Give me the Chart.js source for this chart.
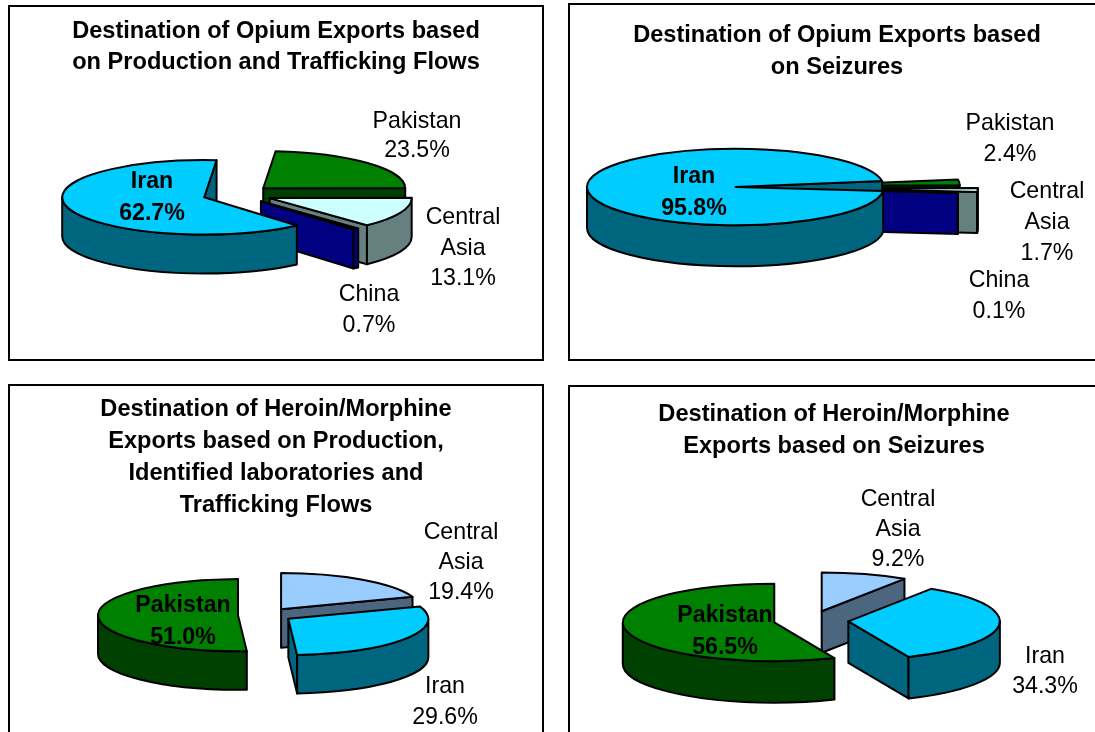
<!DOCTYPE html>
<html>
<head>
<meta charset="utf-8">
<title>Destination of exports</title>
<script src="https://cdn.jsdelivr.net/npm/chart.js@4"></script>
<style>
    html, body { margin: 0; padding: 0; background: #fff; overflow: hidden; }
    body { width: 1095px; height: 732px; position: relative; }
    canvas { position: absolute; border: 2px solid #000; background: #fff; }
</style>
</head>
<body>
<script>
// Values
const opiumFlowTitle = ['Destination of Opium Exports based', 'on Production and Trafficking Flows'];
const opiumFlowCategories = ['Pakistan', 'Central Asia', 'China', 'Iran'];
const opiumFlowValues = [23.5, 13.1, 0.7, 62.7];

const opiumSeizureTitle = ['Destination of Opium Exports based', 'on Seizures'];
const opiumSeizureCategories = ['Pakistan', 'Central Asia', 'China', 'Iran'];
const opiumSeizureValues = [2.4, 1.7, 0.1, 95.8];

const heroinFlowTitle = ['Destination of Heroin/Morphine', 'Exports based on Production,', 'Identified laboratories and', 'Trafficking Flows'];
const heroinFlowCategories = ['Central Asia', 'Iran', 'Pakistan'];
const heroinFlowValues = [19.4, 29.6, 51.0];

const heroinSeizureTitle = ['Destination of Heroin/Morphine', 'Exports based on Seizures'];
const heroinSeizureCategories = ['Central Asia', 'Iran', 'Pakistan'];
const heroinSeizureValues = [9.2, 34.3, 56.5];

// top face / wall colours per country
const palette = {
    'Iran': ['#00CCFF', '#006680'],
    'Pakistan': ['#008000', '#004000'],
    'China': ['#000080', '#000080'],
    'Central Asia': ['#CCFFFF', '#668080']
};
const paleCentralAsia = ['#99CCFF', '#4D6680'];

const FONT = '"Liberation Sans", Arial, sans-serif';

// Puts the pie centre and size where the panel wants them
const placePie = {
    id: 'placePie',
    afterLayout(chart, args, opts) {
        const area = chart.chartArea;
        area.left = opts.cx - opts.r; area.right = opts.cx + opts.r;
        area.top = opts.cy - opts.r; area.bottom = opts.cy + opts.r;
        area.width = opts.r * 2; area.height = opts.r * 2;
    }
};

// Draws the arcs the controller computed as tilted, extruded, exploded slices
const pie3d = {
    id: 'pie3d',
    beforeDatasetDraw(chart, args, opts) {
        const ctx = chart.ctx;
        const arcs = chart.getDatasetMeta(args.index).data;
        const { tilt, depth, explode, order, colors } = opts;

        ctx.save();
        ctx.lineWidth = 2;
        ctx.strokeStyle = '#000';
        ctx.lineJoin = 'round';

        order.forEach(i => {
            const { x, y, startAngle: a0, endAngle: a1, outerRadius: r } = arcs[i];
            const mid = (a0 + a1) / 2;
            const px = x + explode[i] * Math.cos(mid);
            const py = y + explode[i] * tilt * Math.sin(mid);
            const ry = r * tilt;
            const [top, side] = colors[i];

            const radialWall = (angle) => {
                const ex = px + r * Math.cos(angle);
                const ey = py + ry * Math.sin(angle);
                ctx.beginPath();
                ctx.moveTo(px, py);
                ctx.lineTo(ex, ey);
                ctx.lineTo(ex, ey + depth);
                ctx.lineTo(px, py + depth);
                ctx.closePath();
                ctx.fillStyle = side;
                ctx.fill();
                ctx.stroke();
            };

            if (Math.cos(a0) < 0) radialWall(a0);
            if (Math.cos(a1) > 0) radialWall(a1);

            // outer wall: only the part of the rim facing the viewer
            for (let n = -1; n <= 2; n++) {
                const from = Math.max(a0, n * 2 * Math.PI);
                const to = Math.min(a1, n * 2 * Math.PI + Math.PI);
                if (to <= from) continue;
                ctx.beginPath();
                ctx.ellipse(px, py, r, ry, 0, from, to);
                ctx.ellipse(px, py + depth, r, ry, 0, to, from, true);
                ctx.closePath();
                ctx.fillStyle = side;
                ctx.fill();
                ctx.stroke();
            }

            ctx.beginPath();
            ctx.moveTo(px, py);
            ctx.ellipse(px, py, r, ry, 0, a0, a1);
            ctx.closePath();
            ctx.fillStyle = top;
            ctx.fill();
            ctx.stroke();
        });

        ctx.restore();
        return false;
    }
};

// Category name and percentage next to each slice
const sliceLabels = {
    id: 'sliceLabels',
    afterDatasetsDraw(chart, args, opts) {
        const ctx = chart.ctx;
        const values = chart.data.datasets[0].data;
        ctx.save();
        ctx.textAlign = 'center';
        ctx.textBaseline = 'middle';
        ctx.fillStyle = '#000';
        chart.data.labels.forEach((name, i) => {
            const spot = opts.spots[i];
            const lines = name.split(' ').concat(values[i].toFixed(1) + '%');
            ctx.font = (spot.bold ? 'bold ' : '') + opts.size + 'px ' + FONT;
            lines.forEach((line, n) => ctx.fillText(line, spot.x, spot.y + n * spot.step));
        });
        ctx.restore();
    }
};

const makePanel = (cfg) => {
    const canvas = document.createElement('canvas');
    canvas.width = cfg.w;
    canvas.height = cfg.h;
    canvas.style.left = cfg.x + 'px';
    canvas.style.top = cfg.y + 'px';
    canvas.style.boxSizing = 'content-box'; // Chart.js would otherwise squeeze the canvas by its border
    document.body.appendChild(canvas);

    // layout numbers below are in page pixels
    const ox = cfg.x + 2, oy = cfg.y + 2;

    new Chart(canvas.getContext('2d'), {
        type: 'pie',
        data: {
            labels: cfg.categories,
            datasets: [{ data: cfg.values, rotation: cfg.rotation }]
        },
        plugins: [placePie, pie3d, sliceLabels],
        options: {
            responsive: false,
            animation: false,
            plugins: {
                legend: { display: false },
                tooltip: { enabled: false },
                title: {
                    display: true,
                    text: cfg.title,
                    color: '#000',
                    font: { family: FONT, size: 23.6, weight: 'bold', lineHeight: cfg.titleStep / 23.6 },
                    padding: { top: cfg.titleTop - oy, bottom: 0 }
                },
                placePie: { cx: cfg.cx - ox, cy: cfg.cy - oy, r: cfg.radius },
                pie3d: {
                    tilt: cfg.tilt,
                    depth: cfg.depth,
                    explode: cfg.explode,
                    order: cfg.order,
                    colors: cfg.categories.map(c => (cfg.pale && c === 'Central Asia') ? paleCentralAsia : palette[c])
                },
                sliceLabels: {
                    size: 23.2,
                    spots: cfg.spots.map(s => ({ ...s, x: s.x - ox, y: s.y - oy + 2 }))
                }
            }
        }
    });
};

makePanel({
    x: 8, y: 5, w: 532, h: 352,
    title: opiumFlowTitle, categories: opiumFlowCategories, values: opiumFlowValues,
    titleTop: 16, titleStep: 31,
    cx: 237.5, cy: 194.5, radius: 143, tilt: 0.262, depth: 39, rotation: 5,
    explode: [35, 35, 35, 35], order: [0, 1, 2, 3],
    spots: [
        { x: 417, y: 120, step: 29 },
        { x: 463, y: 216, step: 30.5 },
        { x: 369, y: 293, step: 31 },
        { x: 152, y: 180, step: 32, bold: true }
    ]
});

makePanel({
    x: 568, y: 3, w: 534, h: 354,
    title: opiumSeizureTitle, categories: opiumSeizureCategories, values: opiumSeizureValues,
    titleTop: 19, titleStep: 32,
    cx: 735.5, cy: 187, radius: 149.5, tilt: 0.258, depth: 41, rotation: 81,
    explode: [76, 94, 75, 0], order: [0, 1, 2, 3],
    spots: [
        { x: 1010, y: 122, step: 31 },
        { x: 1047, y: 190, step: 31 },
        { x: 999, y: 279, step: 31 },
        { x: 694, y: 175, step: 32, bold: true }
    ]
});

makePanel({
    x: 8, y: 384, w: 532, h: 360,
    title: heroinFlowTitle, categories: heroinFlowCategories, values: heroinFlowValues,
    titleTop: 393, titleStep: 32, pale: true,
    cx: 265.4, cy: 615, radius: 141, tilt: 0.258, depth: 38.5, rotation: 0,
    explode: [27.4, 27.4, 27.4], order: [2, 0, 1],
    spots: [
        { x: 461, y: 531, step: 30 },
        { x: 445, y: 685, step: 31 },
        { x: 183, y: 604, step: 32, bold: true }
    ]
});

makePanel({
    x: 568, y: 385, w: 528, h: 360,
    title: heroinSeizureTitle, categories: heroinSeizureCategories, values: heroinSeizureValues,
    titleTop: 398, titleStep: 32, pale: true,
    cx: 811, cy: 620.5, radius: 152.5, tilt: 0.256, depth: 41.5, rotation: 0,
    explode: [37.5, 37.5, 37.5], order: [0, 1, 2],
    spots: [
        { x: 898, y: 498, step: 30 },
        { x: 1045, y: 655, step: 30 },
        { x: 725, y: 614, step: 32, bold: true }
    ]
});
</script>
</body>
</html>
